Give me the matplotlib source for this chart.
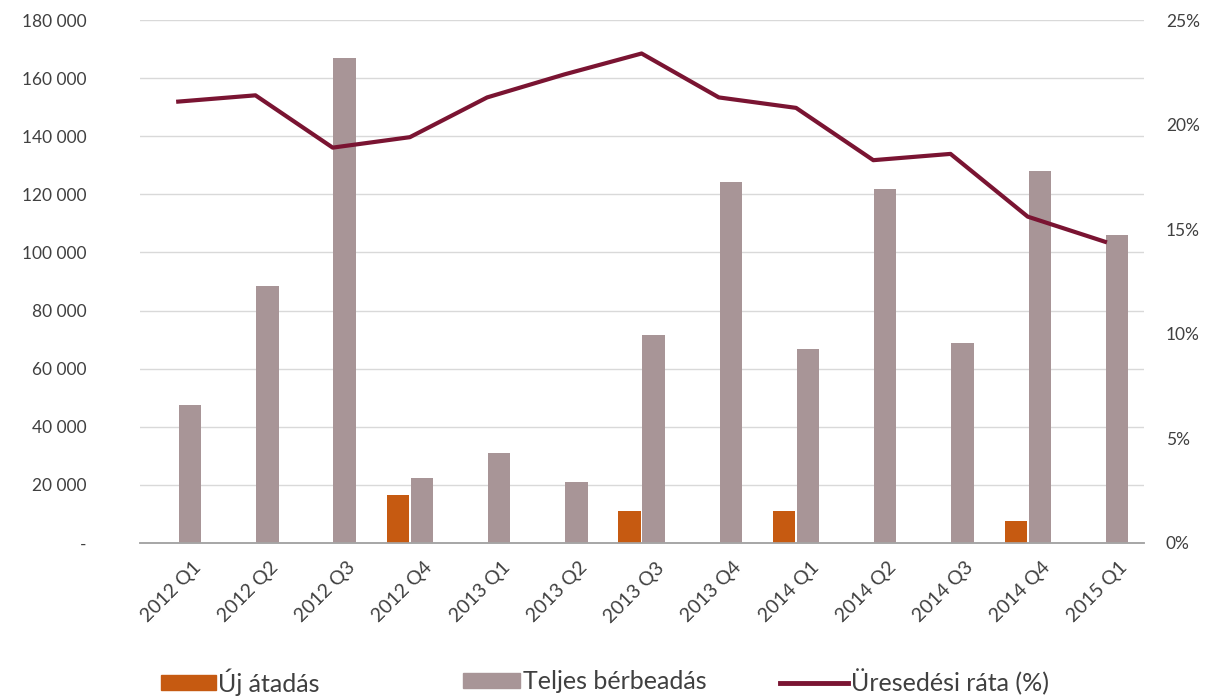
import numpy as np
import matplotlib.pyplot as plt
from matplotlib.ticker import FuncFormatter
from matplotlib.lines import Line2D
from matplotlib.patches import Patch
import matplotlib.transforms as mtransforms

plt.rcParams['font.family'] = ['Lato', 'DejaVu Sans']

quarters = ['2012 Q1', '2012 Q2', '2012 Q3', '2012 Q4', '2013 Q1', '2013 Q2', '2013 Q3',
            '2013 Q4', '2014 Q1', '2014 Q2', '2014 Q3', '2014 Q4', '2015 Q1']
uj_atadas = [0, 0, 0, 16500, 0, 0, 11000, 0, 11000, 0, 0, 7600, 0]
teljes_berbeadas = [47500, 88400, 167000, 22400, 31000, 21000, 71500,
                    124200, 66800, 121800, 68800, 128000, 106000]
uresedesi_rata = [21.1, 21.4, 18.9, 19.4, 21.3, 22.4, 23.4,
                  21.3, 20.8, 18.3, 18.6, 15.6, 14.4]

c_orange = '#c65a11'
c_gray = '#a89597'
c_line = '#7a1432'
c_text = '#404040'

fig = plt.figure(figsize=(12.14, 7), dpi=100)
ax = fig.add_axes([0.115, 0.2243, 0.827, 0.7471])
ax2 = ax.twinx()

x = np.arange(len(quarters))
w = 0.29
ax.bar(x - 0.155, uj_atadas, w, color=c_orange, zorder=3)
ax.bar(x + 0.155, teljes_berbeadas, w, color=c_gray, zorder=3)
ax2.plot(x, uresedesi_rata, color=c_line, lw=3, solid_joinstyle='round', zorder=4)

ax.set_xlim(-0.5, len(quarters) - 0.5)
ax.set_ylim(0, 180000)
ax.set_yticks(np.arange(0, 180001, 20000))
ax.yaxis.set_major_formatter(FuncFormatter(
    lambda v, p: '-' if v == 0 else f'{int(v):,}'.replace(',', ' ')))
ax2.set_ylim(0, 25)
ax2.set_yticks(np.arange(0, 26, 5))
ax2.yaxis.set_major_formatter(FuncFormatter(lambda v, p: f'{int(v)}%'))

ax.grid(axis='y', color='#d9d9d9', lw=1, zorder=0)
for a in (ax, ax2):
    for s in ('top', 'left', 'right'):
        a.spines[s].set_visible(False)
    a.spines['bottom'].set_color('#a6a6a6')
    a.spines['bottom'].set_linewidth(1.2)
    a.tick_params(length=0, labelsize=12.5, labelcolor=c_text)
ax.tick_params(axis='y', pad=38)
ax2.tick_params(axis='y', pad=16)

ax.set_xticks(x)
ax.set_xticklabels(quarters, rotation=45, ha='right', rotation_mode='anchor', fontsize=14)
offset = mtransforms.ScaledTranslation(10 / 72, -8 / 72, fig.dpi_scale_trans)
for lab in ax.get_xticklabels():
    lab.set_transform(lab.get_transform() + offset)

# legend entries spread along the bottom
entries = [
    (Patch(color=c_orange), 'Új átadás', 0.122, 2.2),
    (Patch(color=c_gray), 'Teljes bérbeadás', 0.371, 2.3),
    (Line2D([], [], color=c_line, lw=3.5), 'Üresedési ráta (%)', 0.632, 2.75),
]
for h, lbl, xpos, hl in entries:
    fig.legend([h], [lbl], loc='center left', bbox_to_anchor=(xpos, 0.026),
               frameon=False, fontsize=18, handlelength=hl, handleheight=0.55,
               handletextpad=0.1, borderpad=0, labelcolor=c_text)

fig.savefig('out.png', dpi=100)
